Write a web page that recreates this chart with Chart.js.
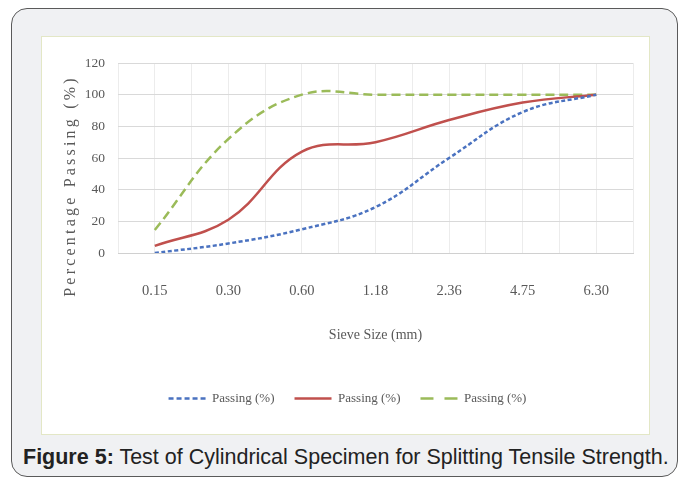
<!DOCTYPE html>
<html>
<head>
<meta charset="utf-8">
<script src="https://cdn.jsdelivr.net/npm/chart.js@4.4.1/dist/chart.umd.min.js"></script>
<style>
  html, body { margin: 0; padding: 0; background: #ffffff; width: 683px; height: 478px; overflow: hidden; }
  #outer { position: absolute; left: 11px; top: 8px; width: 665px; height: 467px; border: 1.5px solid #5a5a5a; border-radius: 16px; background: #f0f1f3; }
  #panel { position: absolute; left: 41px; top: 36px; width: 607px; height: 397px; border: 1px solid #e3e7c6; background: #ffffff; }
  #cv { position: absolute; left: 41px; top: 36px; width: 609px; height: 399px; }
  #caption { position: absolute; left: 23px; top: 445px; font-family: "Liberation Sans", Arial, sans-serif; font-size: 21.5px; color: #222222; white-space: nowrap; }
</style>
</head>
<body>
<div id="outer"></div>
<div id="panel"></div>
<canvas id="cv" width="609" height="399"></canvas>
<div id="caption"><b>Figure 5:</b> Test of Cylindrical Specimen for Splitting Tensile Strength.</div>
<script>
const sieveSizes = ['0.15', '0.30', '0.60', '1.18', '2.36', '4.75', '6.30'];
const passingBlue = [0, 6, 15, 29, 60, 89, 100];
const passingRed = [4.5, 21, 64, 70, 84, 95, 100];
const passingGreen = [14.5, 72, 100, 100, 100, 100, 100];
const yTicks = [0, 20, 40, 60, 80, 100, 120];
const seriesNames = ['Passing (%)', 'Passing (%)', 'Passing (%)'];
const xTitle = 'Sieve Size (mm)';
const yTitle = 'Percentage Passing (%)';

const toPts = arr => arr.map((v, i) => ({ x: i, y: v }));
const serif = '"Liberation Serif", "Times New Roman", serif';
const textColor = '#595959';

const yTitlePlugin = {
  id: 'yTitlePlugin',
  afterDraw(chart) {
    const ctx = chart.ctx;
    ctx.save();
    ctx.translate(30, 150);
    ctx.rotate(-Math.PI / 2);
    ctx.font = '16px ' + serif;
    try { ctx.letterSpacing = '3.2px'; } catch (e) {}
    ctx.fillStyle = textColor;
    ctx.textAlign = 'center';
    ctx.textBaseline = 'middle';
    ctx.fillText(yTitle, 0, 0);
    ctx.restore();
  }
};

new Chart(document.getElementById('cv'), {
  type: 'line',
  data: {
    datasets: [
      { label: seriesNames[0], data: toPts(passingBlue), borderColor: '#4a72c0', backgroundColor: '#4a72c0', borderWidth: 2.5, borderDash: [4, 2.5], legendDash: [5, 3], pointRadius: 0, tension: 0.4, fill: false },
      { label: seriesNames[1], data: toPts(passingRed), borderColor: '#c0504d', backgroundColor: '#c0504d', borderWidth: 2.5, legendDash: [], pointRadius: 0, tension: 0.4, fill: false },
      { label: seriesNames[2], data: toPts(passingGreen), borderColor: '#9bbb59', backgroundColor: '#9bbb59', borderWidth: 2.5, borderDash: [9, 5], legendDash: [13, 11], pointRadius: 0, tension: 0.4, fill: false }
    ]
  },
  options: {
    responsive: false,
    animation: false,
    devicePixelRatio: 1,
    layout: { padding: { left: 4, right: 0, top: 27, bottom: 20 } },
    scales: {
      x: {
        type: 'linear',
        min: -0.5,
        max: 6.5,
        afterBuildTicks(scale) {
          const t = [];
          for (let i = 0; i <= sieveSizes.length * 2; i++) t.push({ value: -0.5 + i * 0.5 });
          scale.ticks = t;
        },
        afterFit(scale) { scale.height = 119; scale.paddingRight = 17; },
        ticks: {
          autoSkip: false,
          maxRotation: 0,
          padding: 4,
          color: textColor,
          font: { family: serif, size: 14.5 },
          callback: v => (Number.isInteger(v) ? sieveSizes[v] : '')
        },
        grid: { color: '#ececec', lineWidth: 1, drawTicks: true, tickLength: 25, tickColor: 'rgba(0,0,0,0)' },
        border: { display: true, color: '#d0d0d0' },
        title: { display: true, text: xTitle, color: textColor, font: { family: serif, size: 14 }, padding: { top: 0, bottom: 28 } }
      },
      y: {
        min: 0,
        max: 120,
        afterBuildTicks(scale) { scale.ticks = yTicks.map(v => ({ value: v })); },
        afterFit(scale) { scale.width = 73; },
        ticks: { padding: 13, color: textColor, font: { family: serif, size: 13.5 } },
        grid: { color: '#d9d9d9', lineWidth: 1, drawTicks: false },
        border: { display: false }
      }
    },
    plugins: {
      legend: {
        position: 'bottom',
        labels: {
          usePointStyle: true,
          pointStyle: 'line',
          pointStyleWidth: 37,
          padding: 20,
          color: textColor,
          font: { family: serif, size: 13 },
          generateLabels(chart) {
            const items = Chart.defaults.plugins.legend.labels.generateLabels(chart);
            items.forEach(it => {
              const ds = chart.data.datasets[it.datasetIndex];
              it.lineDash = ds.legendDash || [];
              it.lineWidth = 2.5;
              it.strokeStyle = ds.borderColor;
              it.fillStyle = ds.borderColor;
              it.pointStyle = 'line';
            });
            return items;
          }
        }
      },
      tooltip: { enabled: false }
    }
  },
  plugins: [yTitlePlugin]
});
</script>
</body>
</html>
